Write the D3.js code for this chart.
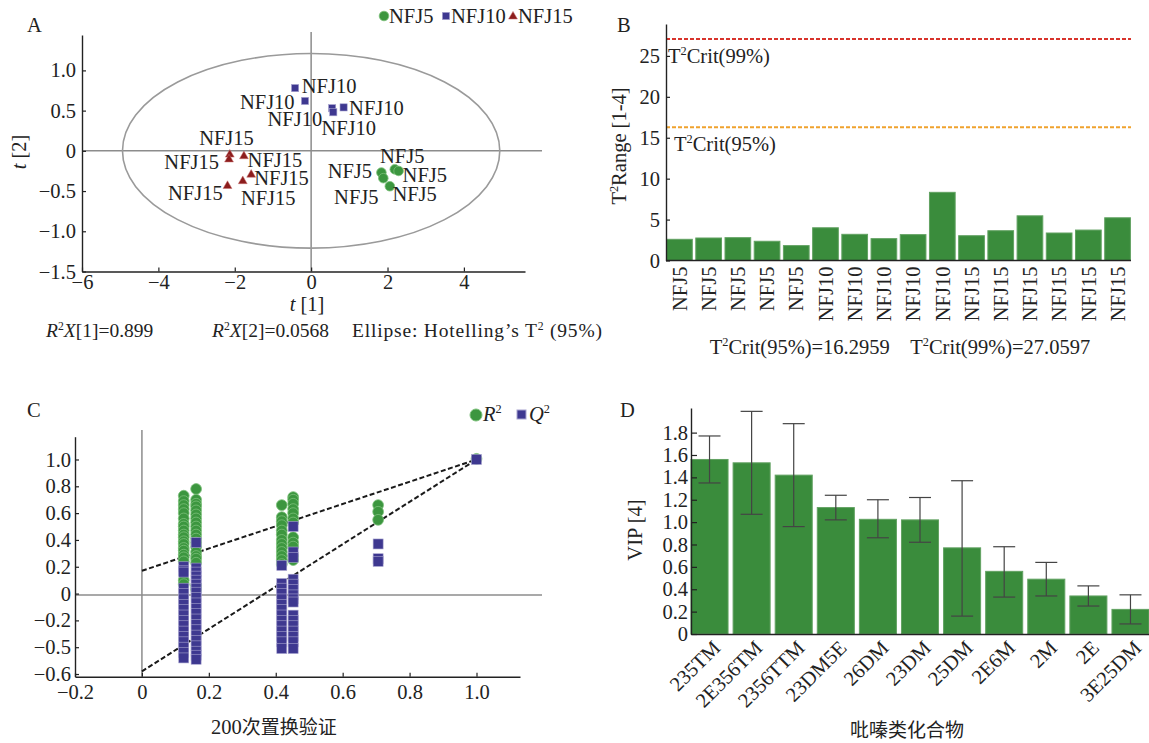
<!DOCTYPE html>
<html>
<head>
<meta charset="utf-8">
<script src="https://cdn.jsdelivr.net/npm/d3@7"></script>
<style>
  body { margin: 0; background: #fff; }
  svg { display: block; }
</style>
</head>
<body>
<div id="chart"></div>
<script>
// ---------------------------------------------------------------
// data
// ---------------------------------------------------------------

// A : score plot t[1] / t[2]
var scoreGroups = ["NFJ10", "NFJ10", "NFJ10", "NFJ10", "NFJ10",
                   "NFJ15", "NFJ15", "NFJ15", "NFJ15", "NFJ15", "NFJ15",
                   "NFJ5", "NFJ5", "NFJ5", "NFJ5", "NFJ5"];
var scoreT1 = [-0.42, -0.16, 0.55, 0.58, 0.85,
               -2.13, -2.15, -1.76, -1.57, -1.79, -2.19,
               1.84, 1.89, 2.19, 2.29, 2.06];
var scoreT2 = [0.78, 0.62, 0.53, 0.48, 0.54,
               -0.04, -0.10, -0.06, -0.29, -0.37, -0.43,
               -0.27, -0.34, -0.23, -0.25, -0.44];
var ellipseT1 = 4.94, ellipseT2 = 1.21;
var aXTicks = [-6, -4, -2, 0, 2, 4];
var aXLabels = ["\u22126", "\u22124", "\u22122", "0", "2", "4"];
var aYTicks = [-1.5, -1.0, -0.5, 0, 0.5, 1.0];
var aYLabels = ["\u22121.5", "\u22121.0", "\u22120.5", "0", "0.5", "1.0"];

// B : T2 range per sample
var sampleNames = ["NFJ5", "NFJ5", "NFJ5", "NFJ5", "NFJ5",
                   "NFJ10", "NFJ10", "NFJ10", "NFJ10", "NFJ10",
                   "NFJ15", "NFJ15", "NFJ15", "NFJ15", "NFJ15", "NFJ15"];
var t2Range = [2.59, 2.75, 2.79, 2.35, 1.82, 4.0, 3.2, 2.67, 3.16, 8.33,
               3.03, 3.64, 5.46, 3.36, 3.72, 5.22];
var t2Crit95 = 16.2959, t2Crit99 = 27.0597;
var bYTicks = [0, 5, 10, 15, 20, 25];

// C : 200 permutations
var permX = [0.125, 0.162, 0.418, 0.452, 0.706, 1.0];
var permR2 = [
  [0.73, 0.69, 0.66, 0.63, 0.60, 0.56, 0.52, 0.50, 0.47, 0.44, 0.42, 0.39, 0.37, 0.34, 0.32, 0.29, 0.27, 0.24, 0.10, 0.07],
  [0.78, 0.70, 0.67, 0.65, 0.62, 0.59, 0.56, 0.53, 0.50, 0.47, 0.44, 0.41, 0.38, 0.35, 0.31, 0.28, 0.26, 0.23, 0.06, 0.03],
  [0.66, 0.57, 0.54, 0.51, 0.47, 0.44, 0.40, 0.37, 0.34, 0.31, 0.28, 0.25, 0.22],
  [0.72, 0.70, 0.67, 0.63, 0.60, 0.56, 0.53, 0.42, 0.38, 0.35, 0.28, 0.25],
  [0.66, 0.61, 0.55],
  [1.005]
];
var permQ2 = [
  [0.20, 0.17, 0.16, 0.04, 0.00, -0.04, -0.08, -0.12, -0.16, -0.20, -0.24, -0.28, -0.32, -0.36, -0.40, -0.44, -0.48],
  [0.38, 0.19, 0.16, 0.13, 0.10, 0.07, 0.04, 0.01, -0.03, -0.07, -0.11, -0.15, -0.19, -0.23, -0.27, -0.31, -0.35, -0.39, -0.43, -0.46, -0.49],
  [0.21, 0.075, 0.04, 0.00, -0.04, -0.08, -0.12, -0.16, -0.20, -0.24, -0.28, -0.32, -0.36, -0.41],
  [0.50, 0.31, 0.27, 0.107, 0.07, 0.03, -0.01, -0.04, -0.063, -0.161, -0.20, -0.24, -0.28, -0.32, -0.36, -0.41],
  [0.37, 0.26, 0.24],
  [1.0]
];
var r2Intercept = 0.17, q2Intercept = -0.58;
var cXTicks = [-0.2, 0, 0.2, 0.4, 0.6, 0.8, 1.0];
var cXLabels = ["\u22120.2", "0", "0.2", "0.4", "0.6", "0.8", "1.0"];
var cYTicks = [-0.6, -0.4, -0.2, 0, 0.2, 0.4, 0.6, 0.8, 1.0];
var cYLabels = ["\u22120.6", "\u22120.5", "\u22120.2", "0", "0.2", "0.4", "0.6", "0.8", "1.0"];

// D : VIP of pyrazines
var compounds = ["235TM", "2E356TM", "2356TTM", "23DM5E", "26DM", "23DM", "25DM", "2E6M", "2M", "2E", "3E25DM"];
var vipValues = [1.56, 1.53, 1.42, 1.13, 1.025, 1.02, 0.77, 0.56, 0.49, 0.34, 0.22];
var vipLow    = [1.35, 1.07, 0.96, 1.02, 0.86, 0.82, 0.16, 0.33, 0.34, 0.25, 0.09];
var vipHigh   = [1.77, 1.99, 1.88, 1.24, 1.20, 1.22, 1.37, 0.78, 0.64, 0.43, 0.35];
var dYTicks = [0, 0.2, 0.4, 0.6, 0.8, 1.0, 1.2, 1.4, 1.6, 1.8];

// ---------------------------------------------------------------
// setup
// ---------------------------------------------------------------
var W = 1149, H = 743;
var serif = "'Liberation Serif', 'Times New Roman', serif";
var cjk = "'Noto Sans CJK SC', 'Noto Sans CJK JP', sans-serif";
var fs = 20.5;
var ink = "#222";
var green = "#3c963f", greenEdge = "#7cc07a";
var barGreen = "#3a8c3c", barEdge = "#62a262";
var indigo = "#3e3890", indigoEdge = "#a7a3cf";
var maroon = "#8c1d1d";
var zeroGrey = "#8c8c8c";

var svg = d3.select("#chart").append("svg")
    .attr("width", W)
    .attr("height", H)
    .style("font-family", serif);

svg.append("rect").attr("width", W).attr("height", H).attr("fill", "#fff");

function styleAxis(g) {
  g.select(".domain").attr("stroke", ink).attr("stroke-width", 1.4);
  g.selectAll(".tick line").attr("stroke", ink).attr("stroke-width", 1.2);
  g.selectAll(".tick text").attr("fill", ink)
    .style("font-family", serif).style("font-size", fs + "px");
}

// text with superscripts; parts: [text, sup?, italic?]
function rich(g, x, y, parts, size, anchor) {
  var t = g.append("text")
    .attr("x", x).attr("y", y)
    .attr("fill", ink)
    .style("font-size", size + "px")
    .style("text-anchor", anchor || "start");
  var shifted = false;
  parts.forEach(function(p) {
    var s = t.append("tspan").text(p[0]);
    if (p[2]) s.style("font-style", "italic");
    if (p[1]) {
      s.style("font-size", (size * 0.6) + "px").attr("dy", -size * 0.38);
      shifted = true;
    } else if (shifted) {
      s.attr("dy", size * 0.38);
      shifted = false;
    }
  });
  return t;
}

function panelLetter(x, y, s) {
  svg.append("text").attr("x", x).attr("y", y).attr("fill", ink)
    .style("font-size", fs + "px").text(s);
}

// ---------------------------------------------------------------
// A : score scatter
// ---------------------------------------------------------------
var gA = svg.append("g");
var xA = d3.scaleLinear().domain([-6, 5.6]).range([82, 525]);
var yA = d3.scaleLinear().domain([-1.5, 1.44]).range([271.5, 35]);

panelLetter(27, 32, "A");

// zero lines
gA.append("line").attr("x1", 82).attr("x2", 542).attr("y1", yA(0)).attr("y2", yA(0))
  .attr("stroke", zeroGrey).attr("stroke-width", 1.5);
gA.append("line").attr("x1", xA(0)).attr("x2", xA(0)).attr("y1", 32).attr("y2", yA(-1.5))
  .attr("stroke", zeroGrey).attr("stroke-width", 1.5);

// Hotelling ellipse
gA.append("ellipse")
  .attr("cx", xA(0)).attr("cy", yA(0))
  .attr("rx", xA(ellipseT1) - xA(0))
  .attr("ry", yA(0) - yA(ellipseT2))
  .attr("fill", "none").attr("stroke", "#9a9a9a").attr("stroke-width", 1.6);

gA.append("g").attr("transform", "translate(0," + yA(-1.5) + ")")
  .call(d3.axisBottom(xA).tickValues(aXTicks).tickSize(-4).tickSizeOuter(0).tickPadding(3)
    .tickFormat(function(d, i) { return aXLabels[i]; }))
  .call(styleAxis);
gA.append("g").attr("transform", "translate(82,0)")
  .call(d3.axisLeft(yA).tickValues(aYTicks).tickSize(-4).tickSizeOuter(0).tickPadding(6)
    .tickFormat(function(d, i) { return aYLabels[i]; }))
  .call(styleAxis);

// label placement next to each point [dx, dy, anchor]
var scoreLabelPos = [
  [6.7, -2.3, "start"], [-10.4, 0.7, "end"], [-10, 10.7, "end"], [-11.9, 16.1, "start"], [5.5, 0, "start"],
  [-3.3, -16.4, "middle"], [-10, 3.4, "end"], [3.7, 4, "start"], [3, 4, "start"], [-1.9, 17.1, "start"], [-4.8, 7, "end"],
  [-9.3, -1.7, "end"], [-4.8, 19.1, "end"], [-14.8, -13.4, "start"], [4, 3.4, "start"], [2.6, 8, "start"]
];

function drawMarker(g, group, x, y) {
  if (group === "NFJ5") {
    g.append("circle").attr("cx", x).attr("cy", y).attr("r", 4.8)
      .attr("fill", green).attr("stroke", greenEdge).attr("stroke-width", 0.8);
  } else if (group === "NFJ10") {
    g.append("rect").attr("x", x - 3.6).attr("y", y - 3.6).attr("width", 7.2).attr("height", 7.2)
      .attr("fill", indigo).attr("stroke", indigoEdge).attr("stroke-width", 0.6);
  } else {
    g.append("path").attr("d", d3.symbol(d3.symbolTriangle, 34)())
      .attr("transform", "translate(" + x + "," + (y + 0.5) + ")")
      .attr("fill", maroon).attr("stroke", "#c87070").attr("stroke-width", 0.5);
  }
}

var ptsA = gA.append("g");
scoreGroups.forEach(function(grp, i) {
  drawMarker(ptsA, grp, xA(scoreT1[i]), yA(scoreT2[i]));
});
scoreGroups.forEach(function(grp, i) {
  var p = scoreLabelPos[i];
  ptsA.append("text")
    .attr("x", xA(scoreT1[i]) + p[0])
    .attr("y", yA(scoreT2[i]) + p[1])
    .attr("dy", "0.35em")
    .attr("fill", ink)
    .style("font-size", fs + "px")
    .style("text-anchor", p[2])
    .text(grp);
});

// legend A
var legA = svg.append("g");
var legItems = [["NFJ5", 384], ["NFJ10", 446], ["NFJ15", 513]];
legItems.forEach(function(it) {
  drawMarker(legA, it[0], it[1], 16);
  legA.append("text").attr("x", it[1] + 5).attr("y", 16).attr("dy", "0.35em")
    .attr("fill", ink).style("font-size", fs + "px").text(it[0]);
});

// axis titles A
rich(gA, 307, 311, [["t", false, true], [" [1]"]], fs, "middle");
var yTitleA = gA.append("g").attr("transform", "translate(26,152) rotate(-90)");
rich(yTitleA, 0, 0, [["t", false, true], [" [2]"]], fs, "middle");

var fsNote = 19.5;
rich(gA, 46, 337, [["R", false, true], ["2", true], ["X", false, true], ["[1]=0.899"]], fsNote);
rich(gA, 212, 337, [["R", false, true], ["2", true], ["X", false, true], ["[2]=0.0568"]], fsNote);
rich(gA, 352, 337, [["Ellipse: Hotelling\u2019s T"], ["2", true], [" (95%)"]], fsNote)
  .attr("textLength", 250);

// ---------------------------------------------------------------
// B : T2 range bars
// ---------------------------------------------------------------
var gB = svg.append("g");
var xB = d3.scaleBand().domain(d3.range(sampleNames.length)).range([666, 1131]).paddingInner(0.12).paddingOuter(0.02);
var yB = d3.scaleLinear().domain([0, 28.9]).range([260.5, 24]);

panelLetter(617, 32, "B");

gB.selectAll(".barB")
  .data(t2Range)
  .enter().append("rect")
  .attr("class", "barB")
  .attr("x", function(d, i) { return xB(i); })
  .attr("y", function(d) { return yB(d); })
  .attr("width", xB.bandwidth())
  .attr("height", function(d) { return yB(0) - yB(d); })
  .attr("fill", barGreen)
  .attr("stroke", barEdge)
  .attr("stroke-width", 1);

gB.append("line")
  .attr("x1", 666).attr("x2", 1131).attr("y1", yB(t2Crit99)).attr("y2", yB(t2Crit99))
  .attr("stroke", "#d8342c").attr("stroke-width", 2).attr("stroke-dasharray", "4,2");
gB.append("line")
  .attr("x1", 666).attr("x2", 1131).attr("y1", yB(t2Crit95)).attr("y2", yB(t2Crit95))
  .attr("stroke", "#f0a22e").attr("stroke-width", 2).attr("stroke-dasharray", "4,2");

rich(gB, 668, 63, [["T"], ["2", true], ["Crit(99%)"]], fs);
rich(gB, 674, 151, [["T"], ["2", true], ["Crit(95%)"]], fs);

var xAxisB = gB.append("g").attr("transform", "translate(0," + yB(0) + ")")
  .call(d3.axisBottom(xB).tickSize(0).tickSizeOuter(0)
    .tickFormat(function(d) { return sampleNames[d]; }))
  .call(styleAxis);
xAxisB.selectAll(".tick text")
  .attr("transform", "rotate(-90)")
  .attr("x", -6).attr("y", 0).attr("dy", "0.35em")
  .style("text-anchor", "end");
xAxisB.select(".domain").attr("d", "M666,0H1131");

gB.append("g").attr("transform", "translate(666,0)")
  .call(d3.axisLeft(yB).tickValues(bYTicks).tickSize(-4).tickSizeOuter(0).tickPadding(6))
  .call(styleAxis);

var yTitleB = gB.append("g").attr("transform", "translate(626,146) rotate(-90)");
rich(yTitleB, 0, 0, [["T"], ["2", true], ["Range [1-4]"]], fs, "middle");

rich(gB, 900, 354, [["T"], ["2", true], ["Crit(95%)=16.2959\u2003T"], ["2", true], ["Crit(99%)=27.0597"]], fs, "middle");

// ---------------------------------------------------------------
// C : permutation test
// ---------------------------------------------------------------
var gC = svg.append("g");
var xC = d3.scaleLinear().domain([-0.2, 1.13]).range([75, 520]);
var yC = d3.scaleLinear().domain([-0.62, 1.17]).range([676.7, 436.7]);

panelLetter(27, 417, "C");

gC.append("line").attr("x1", 75).attr("x2", 542).attr("y1", yC(-0.01)).attr("y2", yC(-0.01))
  .attr("stroke", zeroGrey).attr("stroke-width", 1.5);
gC.append("line").attr("x1", xC(0)).attr("x2", xC(0)).attr("y1", 430).attr("y2", yC(-0.62))
  .attr("stroke", zeroGrey).attr("stroke-width", 1.5);

gC.append("g").attr("transform", "translate(0," + yC(-0.62) + ")")
  .call(d3.axisBottom(xC).tickValues(cXTicks).tickSize(-4).tickSizeOuter(0).tickPadding(8)
    .tickFormat(function(d, i) { return cXLabels[i]; }))
  .call(styleAxis);
gC.append("g").attr("transform", "translate(75,0)")
  .call(d3.axisLeft(yC).tickValues(cYTicks).tickSize(-4).tickSizeOuter(0).tickPadding(4)
    .tickFormat(function(d, i) { return cYLabels[i]; }))
  .call(styleAxis);

// regression lines
[r2Intercept, q2Intercept].forEach(function(b) {
  gC.append("line")
    .attr("x1", xC(0)).attr("y1", yC(b))
    .attr("x2", xC(1)).attr("y2", yC(1))
    .attr("stroke", "#1a1a1a").attr("stroke-width", 2).attr("stroke-dasharray", "5,2.5");
});

var ptsC = gC.append("g");
permR2.forEach(function(col, j) {
  col.forEach(function(v) {
    ptsC.append("circle")
      .attr("cx", xC(permX[j])).attr("cy", yC(v)).attr("r", 5.4)
      .attr("fill", green).attr("stroke", greenEdge).attr("stroke-width", 0.8);
  });
});
permQ2.forEach(function(col, j) {
  col.forEach(function(v) {
    ptsC.append("rect")
      .attr("x", xC(permX[j]) - 5).attr("y", yC(v) - 5)
      .attr("width", 10).attr("height", 10)
      .attr("fill", indigo).attr("stroke", indigoEdge).attr("stroke-width", 0.6);
  });
});

// legend C
var legC = svg.append("g");
legC.append("circle").attr("cx", 476).attr("cy", 415).attr("r", 6)
  .attr("fill", green).attr("stroke", greenEdge);
rich(legC, 483, 421, [["R", false, true], ["2", true]], fs);
legC.append("rect").attr("x", 517).attr("y", 410).attr("width", 9).attr("height", 9)
  .attr("fill", indigo).attr("stroke", indigoEdge);
rich(legC, 529, 421, [["Q", false, true], ["2", true]], fs);

gC.append("text").attr("x", 274).attr("y", 734).attr("fill", ink)
  .style("font-size", fs + "px").style("text-anchor", "middle")
  .text("200")
  .append("tspan").style("font-family", cjk).style("font-size", "19px").text("次置换验证");

// ---------------------------------------------------------------
// D : VIP bars with error bars
// ---------------------------------------------------------------
var gD = svg.append("g");
var xD = d3.scaleBand().domain(compounds).range([691, 1149]).paddingInner(0.12).paddingOuter(0);
var yD = d3.scaleLinear().domain([0, 2.02]).range([634, 408]);

panelLetter(620, 417, "D");

gD.selectAll(".barD")
  .data(vipValues)
  .enter().append("rect")
  .attr("class", "barD")
  .attr("x", function(d, i) { return xD(compounds[i]); })
  .attr("y", function(d) { return yD(d); })
  .attr("width", xD.bandwidth())
  .attr("height", function(d) { return yD(0) - yD(d); })
  .attr("fill", barGreen)
  .attr("stroke", barEdge)
  .attr("stroke-width", 1);

var errD = gD.selectAll(".errD")
  .data(compounds)
  .enter().append("g")
  .attr("class", "errD")
  .attr("transform", function(d) { return "translate(" + (xD(d) + xD.bandwidth() / 2) + ",0)"; })
  .attr("stroke", "#444").attr("stroke-width", 1.2);
errD.append("line").attr("x1", 0).attr("x2", 0)
  .attr("y1", function(d, i) { return yD(vipLow[i]); })
  .attr("y2", function(d, i) { return yD(vipHigh[i]); });
errD.append("line").attr("x1", -11).attr("x2", 11)
  .attr("y1", function(d, i) { return yD(vipHigh[i]); })
  .attr("y2", function(d, i) { return yD(vipHigh[i]); });
errD.append("line").attr("x1", -11).attr("x2", 11)
  .attr("y1", function(d, i) { return yD(vipLow[i]); })
  .attr("y2", function(d, i) { return yD(vipLow[i]); });

var xAxisD = gD.append("g").attr("transform", "translate(0," + yD(0) + ")")
  .call(d3.axisBottom(xD).tickSize(0).tickSizeOuter(0))
  .call(styleAxis);
xAxisD.selectAll(".tick text")
  .attr("transform", "translate(7,10) rotate(-45)")
  .attr("x", 0).attr("y", 0).attr("dy", "0.35em")
  .style("text-anchor", "end");

gD.append("g").attr("transform", "translate(691,0)")
  .call(d3.axisLeft(yD).tickValues(dYTicks).tickSize(-6).tickSizeOuter(0).tickPadding(3)
    .tickFormat(function(d) { return d === 0 ? "0" : d3.format(".1f")(d); }))
  .call(styleAxis);

gD.append("text")
  .attr("transform", "translate(642,530) rotate(-90)")
  .attr("fill", ink).style("font-size", fs + "px").style("text-anchor", "middle")
  .text("VIP [4]");

gD.append("text").attr("x", 907).attr("y", 737).attr("fill", ink)
  .style("font-family", cjk).style("font-size", "19px").style("text-anchor", "middle")
  .text("吡嗪类化合物");
</script>
</body>
</html>
